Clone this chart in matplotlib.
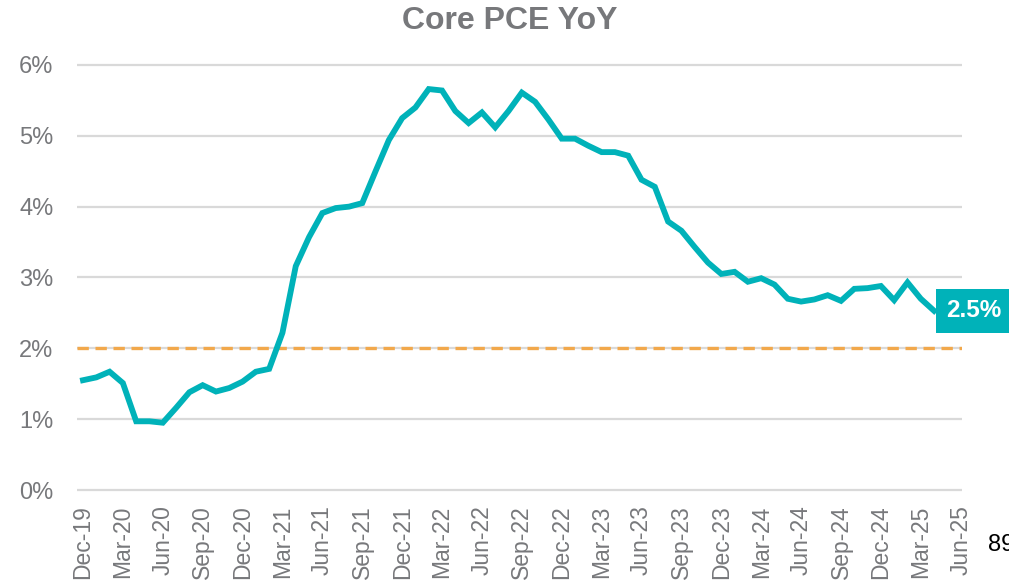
import pandas as pd
import matplotlib
matplotlib.use("Agg")
import matplotlib.pyplot as plt

plt.rcParams["font.family"] = ["Liberation Sans", "DejaVu Sans"]

# Core PCE YoY, monthly Dec-19 .. Apr-25 (%)
core_pce = [1.55, 1.59, 1.67, 1.51, 0.97, 0.97, 0.95, 1.16, 1.38, 1.48,
            1.39, 1.44, 1.53, 1.67, 1.71, 2.22, 3.16, 3.57, 3.91, 3.98,
            4.00, 4.05, 4.50, 4.94, 5.25, 5.40, 5.66, 5.64, 5.35, 5.18,
            5.33, 5.12, 5.35, 5.61, 5.48, 5.23, 4.96, 4.96, 4.86, 4.77,
            4.77, 4.72, 4.38, 4.28, 3.79, 3.66, 3.43, 3.21, 3.05, 3.08,
            2.94, 2.99, 2.90, 2.70, 2.66, 2.69, 2.75, 2.67, 2.84, 2.85,
            2.88, 2.68, 2.93, 2.70, 2.53]
target = 2.0
last_label = "2.5%"

months = pd.date_range("2019-12-01", "2025-06-01", freq="MS")
tick_pos = list(range(0, len(months), 3))
tick_labels = [months[i].strftime("%b-%y") for i in tick_pos]
y_ticks = [0, 1, 2, 3, 4, 5, 6]

teal = "#00B2B9"
gray_text = "#77787B"

fig = plt.figure(figsize=(10.09, 5.87), dpi=100)
W, H = 1009, 587
left, right = 77, 962
top_px, bot_px = 57.9, 497.1
ax = fig.add_axes([left / W, 1 - bot_px / H, (right - left) / W, (bot_px - top_px) / H])

x = list(range(len(core_pce)))
ax.plot(x, core_pce, color=teal, linewidth=4.2, solid_joinstyle="miter", zorder=3)
ax.axhline(target, color="#F2A84B", linewidth=2.4, linestyle=(0, (3.4, 2.0)), zorder=2)

ax.set_xlim(-0.45, 66.1)
ax.set_ylim(-0.1, 6.1)
ax.set_yticks(y_ticks)
ax.set_yticklabels([f"{v}%" for v in y_ticks])
ax.set_xticks(tick_pos)
ax.set_xticklabels(tick_labels, rotation=90)
ax.grid(axis="y", color="#D9D9D9", linewidth=1.6)
ax.set_axisbelow(True)
for s in ax.spines.values():
    s.set_visible(False)
ax.tick_params(axis="y", length=0, pad=17, labelsize=17, labelcolor=gray_text)
ax.tick_params(axis="x", length=0, pad=6, labelsize=16.5, labelcolor=gray_text)

ax.annotate(last_label, xy=(x[-1], core_pce[-1]), xytext=(9, 0),
            textcoords="offset points", ha="left", va="center",
            fontsize=17.5, fontweight="bold", color="white",
            bbox=dict(boxstyle="square,pad=0.42", fc=teal, ec="none"),
            annotation_clip=False)

fig.text(510 / W, 1 - 21 / H, "Core PCE YoY", ha="center", va="center",
         fontsize=23, fontweight="bold", color=gray_text)
fig.text(988 / W, 1 - 545 / H, "89", ha="left", va="center",
         fontsize=17, color="black")

fig.savefig("out.png", dpi=100)
